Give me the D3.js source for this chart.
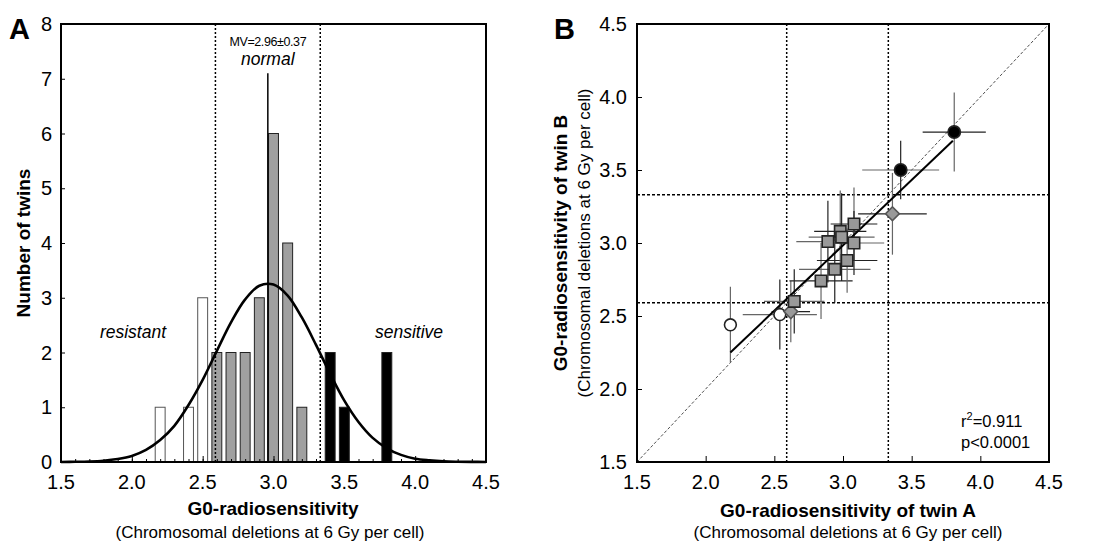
<!DOCTYPE html>
<meta charset="utf-8">
<style>
  body { margin: 0; background: #fff; }
  svg text { font-family: "Liberation Sans", Arial, sans-serif; fill: #000; }
  .frame { fill: none; stroke: #000; stroke-width: 2; }
  .tick line { stroke: #000; }
  .domain { display: none; }
</style>
<head>
  <title>G0-radiosensitivity of twins</title>
  <script src="https://d3js.org/d3.v7.min.js"></script>
</head>
<body>
<div id="chart"></div>
<script>

// histogram (panel A)
var binCenters = [2.2, 2.4, 2.5, 2.6, 2.7, 2.8, 2.9, 3.0, 3.1, 3.2, 3.4, 3.5, 3.8];
var binCounts  = [1, 1, 3, 2, 2, 2, 3, 6, 4, 1, 2, 1, 2];
var binGroups  = ["resistant", "resistant", "resistant", "normal", "normal", "normal", "normal",
                  "normal", "normal", "normal", "sensitive", "sensitive", "sensitive"];

// fitted normal curve
var curveX = [1.5, 1.6, 1.7, 1.8, 1.9, 2.0, 2.1, 2.2, 2.3, 2.4, 2.5, 2.6, 2.7, 2.8, 2.9, 3.0,
              3.1, 3.2, 3.3, 3.4, 3.5, 3.6, 3.7, 3.8, 3.9, 4.0, 4.1, 4.2, 4.3, 4.4, 4.5];
var curveY = [0.001, 0.004, 0.01, 0.024, 0.054, 0.11, 0.22, 0.40, 0.66, 1.04, 1.50, 2.03, 2.55,
              2.97, 3.22, 3.24, 3.04, 2.64, 2.14, 1.61, 1.12, 0.73, 0.44, 0.25, 0.13, 0.06,
              0.03, 0.012, 0.005, 0.002, 0.001];

var meanValue = 2.96, sdValue = 0.37;
var xTicks = [1.5, 2.0, 2.5, 3.0, 3.5, 4.0, 4.5];
var yTicksA = [0, 1, 2, 3, 4, 5, 6, 7, 8];
var yTicksB = [1.5, 2.0, 2.5, 3.0, 3.5, 4.0, 4.5];

// twin pairs (panel B)
var twinA  = [2.18, 2.54, 2.62, 2.645, 2.84, 2.94, 3.03, 2.89, 2.98, 2.99, 3.08, 3.08, 3.36, 3.42, 3.81];
var twinB  = [2.44, 2.51, 2.53, 2.60, 2.74, 2.82, 2.88, 3.01, 3.08, 3.04, 3.13, 3.00, 3.20, 3.50, 3.76];
var errA   = [0.0, 0.27, 0.14, 0.22, 0.23, 0.26, 0.22, 0.23, 0.19, 0.24, 0.17, 0.22, 0.25, 0.28, 0.23];
var errB   = [0.26, 0.24, 0.21, 0.22, 0.26, 0.23, 0.22, 0.28, 0.28, 0.30, 0.25, 0.22, 0.28, 0.20, 0.27];
var shapes = ["open", "open", "diamond", "square", "square", "square", "square", "square", "square",
              "square", "square", "square", "diamond", "filled", "filled"];

var fitLine = [[2.18, 2.25], [3.80, 3.70]];

var tickFont = "20px", titleFont = "19px", noteFont = "17px";

var svg = d3.select("#chart").append("svg")
    .attr("width", 1096)
    .attr("height", 543);

/* ---------- panel A ---------- */

var xA = d3.scaleLinear().domain([1.5, 4.5]).range([61, 486]);
var yA = d3.scaleLinear().domain([0, 8]).range([462, 24]);

var gA = svg.append("g");

var barFill = { resistant: "#fff", normal: "#a0a0a0", sensitive: "#000" };
var barW = xA(1.57) - xA(1.5);

gA.selectAll("rect.bar")
    .data(binCenters)
    .enter().append("rect")
    .attr("class", "bar")
    .attr("x", function(d) { return xA(d) - barW / 2; })
    .attr("y", function(d, i) { return yA(binCounts[i]); })
    .attr("width", barW)
    .attr("height", function(d, i) { return yA(0) - yA(binCounts[i]); })
    .attr("fill", function(d, i) { return barFill[binGroups[i]]; })
    .attr("stroke", function(d, i) { return binGroups[i] == "resistant" ? "#555" : "#222"; })
    .attr("stroke-width", 1);

// normal range (mean +/- sd)
gA.selectAll("line.range")
    .data([meanValue - sdValue, meanValue + sdValue])
    .enter().append("line")
    .attr("x1", function(d) { return xA(d); })
    .attr("x2", function(d) { return xA(d); })
    .attr("y1", yA(8)).attr("y2", yA(0))
    .attr("stroke", "#000").attr("stroke-width", 1.5)
    .attr("stroke-dasharray", "2,2");

gA.append("line")
    .attr("x1", xA(meanValue)).attr("x2", xA(meanValue))
    .attr("y1", yA(7.1)).attr("y2", yA(0))
    .attr("stroke", "#000").attr("stroke-width", 1.5);

var normalLine = d3.line()
    .x(function(d) { return xA(d); })
    .y(function(d, i) { return yA(curveY[i]); })
    .curve(d3.curveCatmullRom);

gA.append("path")
    .attr("d", normalLine(curveX))
    .attr("fill", "none")
    .attr("stroke", "#000")
    .attr("stroke-width", 2.6);

// axes: ticks point inward
gA.append("g")
    .attr("transform", "translate(0," + yA(0) + ")")
    .call(d3.axisTop(xA).tickValues(d3.range(15, 46).map(function(d) { return d / 10; }))
        .tickSize(3).tickFormat(""));
gA.append("g")
    .attr("transform", "translate(0," + yA(0) + ")")
    .call(d3.axisTop(xA).tickValues(xTicks).tickSize(6).tickFormat(""));
gA.append("g")
    .attr("transform", "translate(" + xA(1.5) + ",0)")
    .call(d3.axisRight(yA).tickValues(yTicksA).tickSize(4).tickFormat(""));

gA.selectAll("text.xtick")
    .data(xTicks)
    .enter().append("text")
    .attr("x", function(d) { return xA(d); })
    .attr("y", 489)
    .attr("text-anchor", "middle")
    .style("font-size", tickFont)
    .text(function(d) { return d.toFixed(1); });

gA.selectAll("text.ytick")
    .data(yTicksA)
    .enter().append("text")
    .attr("x", 52)
    .attr("y", function(d) { return yA(d) + 7; })
    .attr("text-anchor", "end")
    .style("font-size", tickFont)
    .text(function(d) { return d; });

gA.append("rect").attr("class", "frame")
    .attr("x", xA(1.5)).attr("y", yA(8))
    .attr("width", xA(4.5) - xA(1.5)).attr("height", yA(0) - yA(8));

gA.append("text").attr("x", 9).attr("y", 39)
    .style("font-size", "29px").style("font-weight", "bold").text("A");

gA.append("text").attr("x", 273).attr("y", 515)
    .attr("text-anchor", "middle")
    .style("font-size", titleFont).style("font-weight", "bold")
    .text("G0-radiosensitivity");
gA.append("text").attr("x", 270).attr("y", 538)
    .attr("text-anchor", "middle")
    .style("font-size", noteFont)
    .text("(Chromosomal deletions at 6 Gy per cell)");

gA.append("text")
    .attr("transform", "translate(30,243) rotate(-90)")
    .attr("text-anchor", "middle")
    .style("font-size", titleFont).style("font-weight", "bold")
    .text("Number of twins");

gA.append("text").attr("x", xA(meanValue)).attr("y", 46)
    .attr("text-anchor", "middle").style("font-size", "12.5px").style("letter-spacing", "-0.4px")
    .text("MV=2.96\u00b10.37");
gA.append("text").attr("x", xA(meanValue)).attr("y", 65)
    .attr("text-anchor", "middle").style("font-size", "17.5px").style("font-style", "italic")
    .text("normal");
gA.append("text").attr("x", 133).attr("y", 338)
    .attr("text-anchor", "middle").style("font-size", "17.5px").style("font-style", "italic")
    .text("resistant");
gA.append("text").attr("x", 409).attr("y", 338)
    .attr("text-anchor", "middle").style("font-size", "17.5px").style("font-style", "italic")
    .text("sensitive");

/* ---------- panel B ---------- */

var xB = d3.scaleLinear().domain([1.5, 4.5]).range([637, 1049]);
var yB = d3.scaleLinear().domain([1.5, 4.5]).range([462, 24]);

var gB = svg.append("g");

gB.selectAll("line.vrange")
    .data([meanValue - sdValue, meanValue + sdValue])
    .enter().append("line")
    .attr("x1", function(d) { return xB(d); })
    .attr("x2", function(d) { return xB(d); })
    .attr("y1", yB(4.5)).attr("y2", yB(1.5))
    .attr("stroke", "#000").attr("stroke-width", 1.5)
    .attr("stroke-dasharray", "2,2");
gB.selectAll("line.hrange")
    .data([meanValue - sdValue, meanValue + sdValue])
    .enter().append("line")
    .attr("x1", xB(1.5)).attr("x2", xB(4.5))
    .attr("y1", function(d) { return yB(d); })
    .attr("y2", function(d) { return yB(d); })
    .attr("stroke", "#000").attr("stroke-width", 1.5)
    .attr("stroke-dasharray", "3,2");

// identity line
gB.append("line")
    .attr("x1", xB(1.5)).attr("y1", yB(1.5))
    .attr("x2", xB(4.5)).attr("y2", yB(4.5))
    .attr("stroke", "#000").attr("stroke-width", 0.7)
    .attr("stroke-dasharray", "3,2");

// error bars
var pts = gB.selectAll("g.pt")
    .data(twinA)
    .enter().append("g");

pts.append("line")
    .attr("x1", function(d, i) { return xB(d - errA[i]); })
    .attr("x2", function(d, i) { return xB(d + errA[i]); })
    .attr("y1", function(d, i) { return yB(twinB[i]); })
    .attr("y2", function(d, i) { return yB(twinB[i]); })
    .attr("stroke", function(d, i) { return i % 2 ? "#666" : "#222"; })
    .attr("stroke-width", 1.2);
pts.append("line")
    .attr("x1", function(d) { return xB(d); })
    .attr("x2", function(d) { return xB(d); })
    .attr("y1", function(d, i) { return yB(twinB[i] - errB[i]); })
    .attr("y2", function(d, i) { return yB(twinB[i] + errB[i]); })
    .attr("stroke", function(d, i) { return i % 2 ? "#222" : "#666"; })
    .attr("stroke-width", 1.2);

// regression line
gB.append("line")
    .attr("x1", xB(fitLine[0][0])).attr("y1", yB(fitLine[0][1]))
    .attr("x2", xB(fitLine[1][0])).attr("y2", yB(fitLine[1][1]))
    .attr("stroke", "#000").attr("stroke-width", 2);

var symbolFor = { open: d3.symbolCircle, filled: d3.symbolCircle, square: d3.symbolSquare, diamond: d3.symbolSquare };
var sizeFor = { open: 110, filled: 120, square: 130, diamond: 95 };

gB.selectAll("path.marker")
    .data(twinA)
    .enter().append("path")
    .attr("d", function(d, i) { return d3.symbol().type(symbolFor[shapes[i]]).size(sizeFor[shapes[i]])(); })
    .attr("transform", function(d, i) {
        return "translate(" + xB(d) + "," + yB(twinB[i]) + ")" + (shapes[i] == "diamond" ? " rotate(45)" : "");
    })
    .attr("fill", function(d, i) { return shapes[i] == "open" ? "#fff" : shapes[i] == "filled" ? "#000" : "#999"; })
    .attr("stroke", function(d, i) { return shapes[i] == "diamond" ? "#555" : "#222"; })
    .attr("stroke-width", 1.6);

gB.append("g")
    .attr("transform", "translate(0," + yB(1.5) + ")")
    .call(d3.axisTop(xB).tickValues(xTicks).tickSize(6).tickFormat(""));
gB.append("g")
    .attr("transform", "translate(" + xB(1.5) + ",0)")
    .call(d3.axisRight(yB).tickValues(yTicksB).tickSize(5).tickFormat(""));

gB.selectAll("text.xtick")
    .data(xTicks)
    .enter().append("text")
    .attr("x", function(d) { return xB(d); })
    .attr("y", 489)
    .attr("text-anchor", "middle")
    .style("font-size", tickFont)
    .text(function(d) { return d.toFixed(1); });

gB.selectAll("text.ytick")
    .data(yTicksB)
    .enter().append("text")
    .attr("x", 627)
    .attr("y", function(d) { return yB(d) + 7; })
    .attr("text-anchor", "end")
    .style("font-size", tickFont)
    .text(function(d) { return d.toFixed(1); });

gB.append("rect").attr("class", "frame")
    .attr("x", xB(1.5)).attr("y", yB(4.5))
    .attr("width", xB(4.5) - xB(1.5)).attr("height", yB(1.5) - yB(4.5));

gB.append("text").attr("x", 554).attr("y", 39)
    .style("font-size", "29px").style("font-weight", "bold").text("B");

gB.append("text").attr("x", 848).attr("y", 517)
    .attr("text-anchor", "middle")
    .style("font-size", titleFont).style("font-weight", "bold")
    .text("G0-radiosensitivity of twin A");
gB.append("text").attr("x", 848).attr("y", 538)
    .attr("text-anchor", "middle")
    .style("font-size", noteFont)
    .text("(Chromosomal deletions at 6 Gy per cell)");

gB.append("text")
    .attr("transform", "translate(567,243) rotate(-90)")
    .attr("text-anchor", "middle")
    .style("font-size", titleFont).style("font-weight", "bold")
    .text("G0-radiosensitivity of twin B");
gB.append("text")
    .attr("transform", "translate(590,243) rotate(-90)")
    .attr("text-anchor", "middle")
    .style("font-size", noteFont)
    .text("(Chromosomal deletions at 6 Gy per cell)");

var stat = gB.append("text").attr("x", 961).attr("y", 427).style("font-size", "16.5px");
stat.append("tspan").text("r");
stat.append("tspan").attr("dy", -7).style("font-size", "11px").text("2");
stat.append("tspan").attr("dy", 7).text("=0.911");
gB.append("text").attr("x", 961).attr("y", 448).style("font-size", "16.5px").text("p<0.0001");

</script>
</body>
